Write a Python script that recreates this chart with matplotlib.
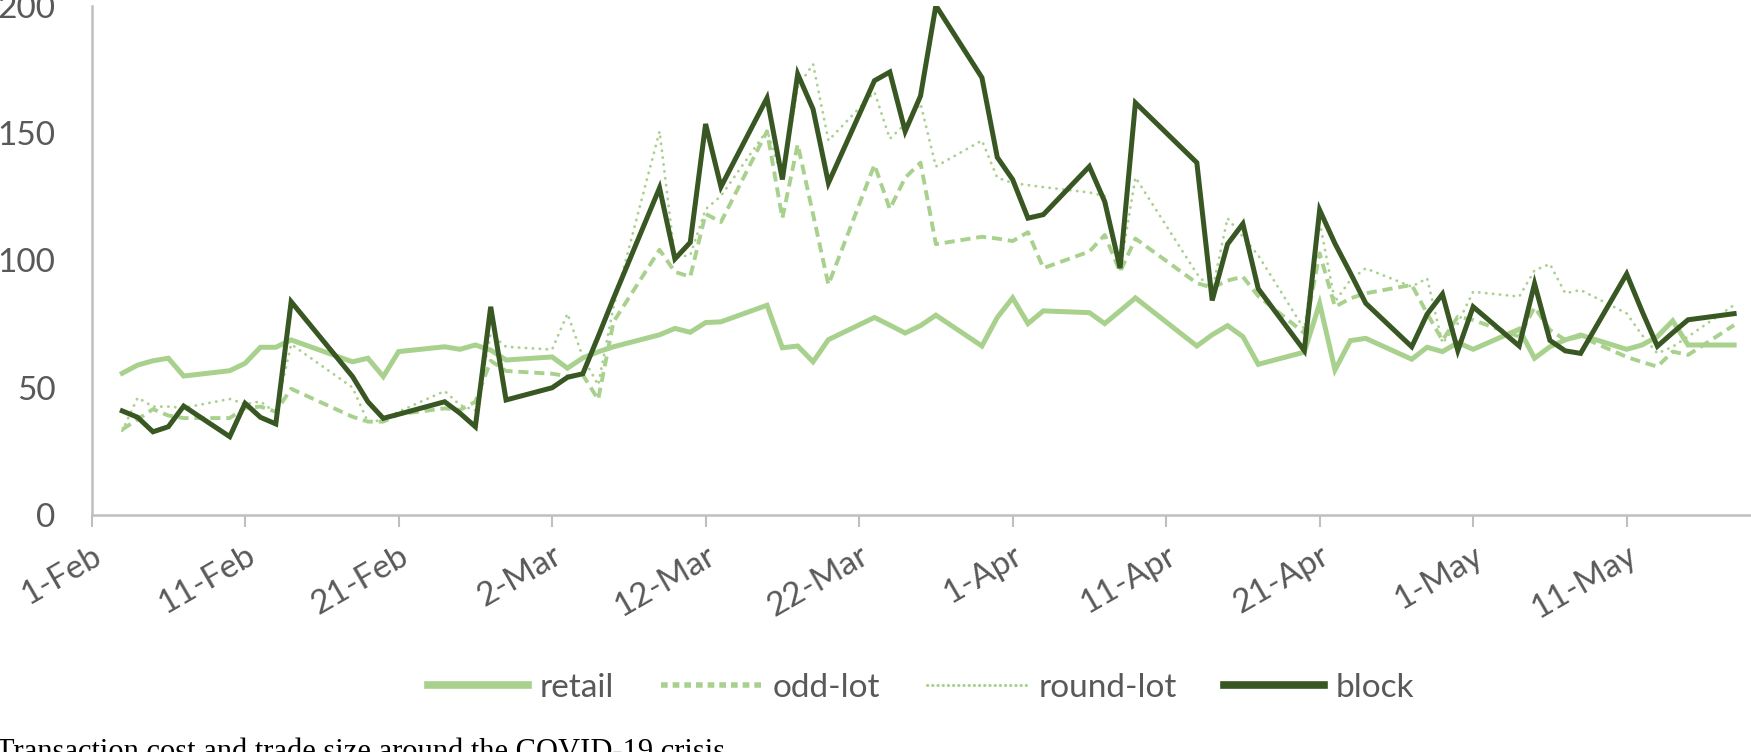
import pandas as pd
import matplotlib
matplotlib.use("Agg")
import matplotlib.pyplot as plt
from matplotlib.lines import Line2D

# trading days, Feb 3 - May 18 2020
dates = pd.to_datetime(
    ["2020-02-%02d" % d for d in [3, 4, 5, 6, 7, 10, 11, 12, 13, 14, 18, 19, 20, 21, 24, 25, 26, 27, 28]]
    + ["2020-03-%02d" % d for d in [2, 3, 4, 5, 6, 9, 10, 11, 12, 13, 16, 17, 18, 19, 20, 23, 24, 25, 26, 27, 30, 31]]
    + ["2020-04-%02d" % d for d in [1, 2, 3, 6, 7, 8, 9, 13, 14, 15, 16, 17, 20, 21, 22, 23, 24, 27, 28, 29, 30]]
    + ["2020-05-%02d" % d for d in [1, 4, 5, 6, 7, 8, 11, 12, 13, 14, 15, 18]]
)

retail = [55.6, 58.8, 60.5, 61.5, 54.5, 56.6, 59.5, 65.8, 65.8, 68.7, 60.1, 61.5, 54.3, 64.1, 66.0, 65.0, 66.7, 64.7, 60.8,
          62.0, 57.6, 61.6, 64.0, 66.0, 70.7, 73.2, 71.7, 75.5, 75.8, 82.3, 65.6, 66.3, 60.1, 68.8, 77.5, 74.5, 71.4, 74.3, 78.4, 66.3, 77.5,
          85.2, 75.1, 80.1, 79.4, 75.1, 80.1, 85.2, 66.3, 70.7, 74.3, 70.0, 59.1, 63.9, 83.0, 56.9, 68.4, 69.3, 61.1, 65.8, 64.1, 67.6,
          65.0, 72.9, 61.5, 66.0, 68.7, 70.6, 65.0, 66.7, 70.0, 76.2, 66.7, 66.7]

odd_lot = [33.5, 37.5, 41.5, 39.0, 38.0, 38.0, 42.0, 42.5, 40.5, 49.5, 38.5, 36.6, 36.6, 39.5, 41.8, 41.2, 44.4, 60.5, 56.5,
           55.4, 54.5, 55.0, 45.3, 75.8, 104.1, 95.4, 93.5, 118.2, 115.0, 150.6, 116.5, 145.5, 118.0, 90.4, 137.5, 120.1, 132.4, 138.3, 106.3, 109.2, 108.5,
           107.5, 111.0, 96.9, 103.4, 109.9, 95.4, 108.5, 91.0, 89.2, 92.0, 93.5, 85.9, 71.4, 102.7, 81.7, 85.0, 87.0, 90.3, 79.1, 68.5, 77.8,
           76.5, 70.0, 81.5, 72.6, 68.7, 70.0, 62.0, 60.0, 58.2, 64.1, 62.8, 74.5]

round_lot = [33.0, 46.0, 42.5, 42.5, 42.0, 45.5, 43.5, 44.5, 40.0, 67.0, 50.0, 36.5, 37.2, 40.5, 48.6, 43.1, 41.0, 71.0, 66.0,
             64.9, 79.0, 62.0, 51.0, 81.6, 150.6, 101.0, 102.0, 120.0, 125.2, 151.0, 131.9, 168.0, 177.0, 147.0, 166.0, 147.7, 153.5, 161.5, 136.8, 147.0, 132.4,
             130.3, 129.5, 128.7, 126.6, 125.2, 96.2, 132.5, 94.7, 88.0, 116.5, 109.2, 101.9, 72.9, 115.0, 83.7, 92.2, 96.8, 89.6, 92.9, 67.4, 75.2,
             87.6, 85.7, 96.0, 98.5, 87.0, 88.3, 79.1, 70.6, 63.4, 66.0, 70.0, 82.4]

block = [40.8, 38.3, 32.6, 34.6, 42.7, 30.7, 43.8, 38.3, 35.7, 83.7, 54.3, 44.4, 37.9, 39.5, 44.4, 39.9, 34.6, 81.7, 45.1,
         49.9, 54.0, 55.4, 70.0, 85.0, 128.4, 100.5, 107.0, 153.5, 128.8, 163.7, 131.7, 173.1, 159.3, 130.3, 170.5, 173.9, 150.6, 164.5, 200.0, 171.7, 140.4,
         131.7, 116.5, 117.9, 136.8, 123.0, 96.9, 161.8, 138.3, 84.2, 106.3, 114.3, 88.8, 64.5, 119.7, 106.5, 95.0, 83.1, 66.0, 78.8, 86.7, 64.5,
         81.7, 66.3, 90.8, 68.5, 64.4, 63.4, 94.6, 80.0, 66.2, 71.5, 76.6, 79.0]

tick_dates = pd.date_range("2020-02-01", periods=11, freq="10D")
tick_labels = ["1-Feb", "11-Feb", "21-Feb", "2-Mar", "12-Mar", "22-Mar",
               "1-Apr", "11-Apr", "21-Apr", "1-May", "11-May"]
y_ticks = [0, 50, 100, 150, 200]

light = "#a9d18e"
dark = "#385723"
axis_grey = "#bfbfbf"
text_grey = "#595959"

plt.rcParams["font.family"] = ["Lato", "DejaVu Sans"]

fig = plt.figure(figsize=(17.51, 7.52), dpi=100)
ax = fig.add_axes([0.0523, 0.3154, 0.9477, 0.6772])

ax.plot(dates, retail, color=light, lw=3.6, solid_joinstyle="miter", label="retail")
ax.plot(dates, odd_lot, color=light, lw=2.8, linestyle=(0, (2.6, 1.5)), label="odd-lot")
ax.plot(dates, round_lot, color=light, lw=2.0, linestyle=(0, (0.1, 2.4)),
        dash_capstyle="round", label="round-lot")
ax.plot(dates, block, color=dark, lw=3.6, solid_joinstyle="miter", label="block")

start = pd.Timestamp("2020-02-01")
ax.set_xlim(start, start + pd.Timedelta(days=108.1))
ax.set_ylim(0, 200)

ax.set_xticks(tick_dates)
ax.set_xticklabels(tick_labels, rotation=30, ha="right", va="top",
                   rotation_mode="anchor")
ax.set_yticks(y_ticks)
ax.tick_params(axis="x", direction="out", length=8.5, width=1.5, color=axis_grey,
               labelsize=24, labelcolor=text_grey, pad=10)
ax.tick_params(axis="y", length=0, labelsize=24, labelcolor=text_grey, pad=26)

for s in ["top", "right"]:
    ax.spines[s].set_visible(False)
for s in ["left", "bottom"]:
    ax.spines[s].set_color(axis_grey)
    ax.spines[s].set_linewidth(1.8)

handles = [
    Line2D([], [], color=light, lw=5.5),
    Line2D([], [], color=light, lw=4, linestyle=(0, (1.2, 0.9))),
    Line2D([], [], color=light, lw=2.2, linestyle=(0, (0.1, 1.6)), dash_capstyle="round"),
    Line2D([], [], color=dark, lw=5.5),
]
fig.legend(handles, ["retail", "odd-lot", "round-lot", "block"],
           loc="center", bbox_to_anchor=(0.526, 0.085), ncol=4, frameon=False,
           fontsize=24, labelcolor=text_grey, handlelength=3.0,
           handletextpad=0.35, columnspacing=1.4)

fig.text(-0.002, 0.018, "Transaction cost and trade size around the COVID-19 crisis.",
         family="Liberation Serif", fontsize=22, va="top", ha="left", color="black")

fig.savefig("out.png", dpi=100)
